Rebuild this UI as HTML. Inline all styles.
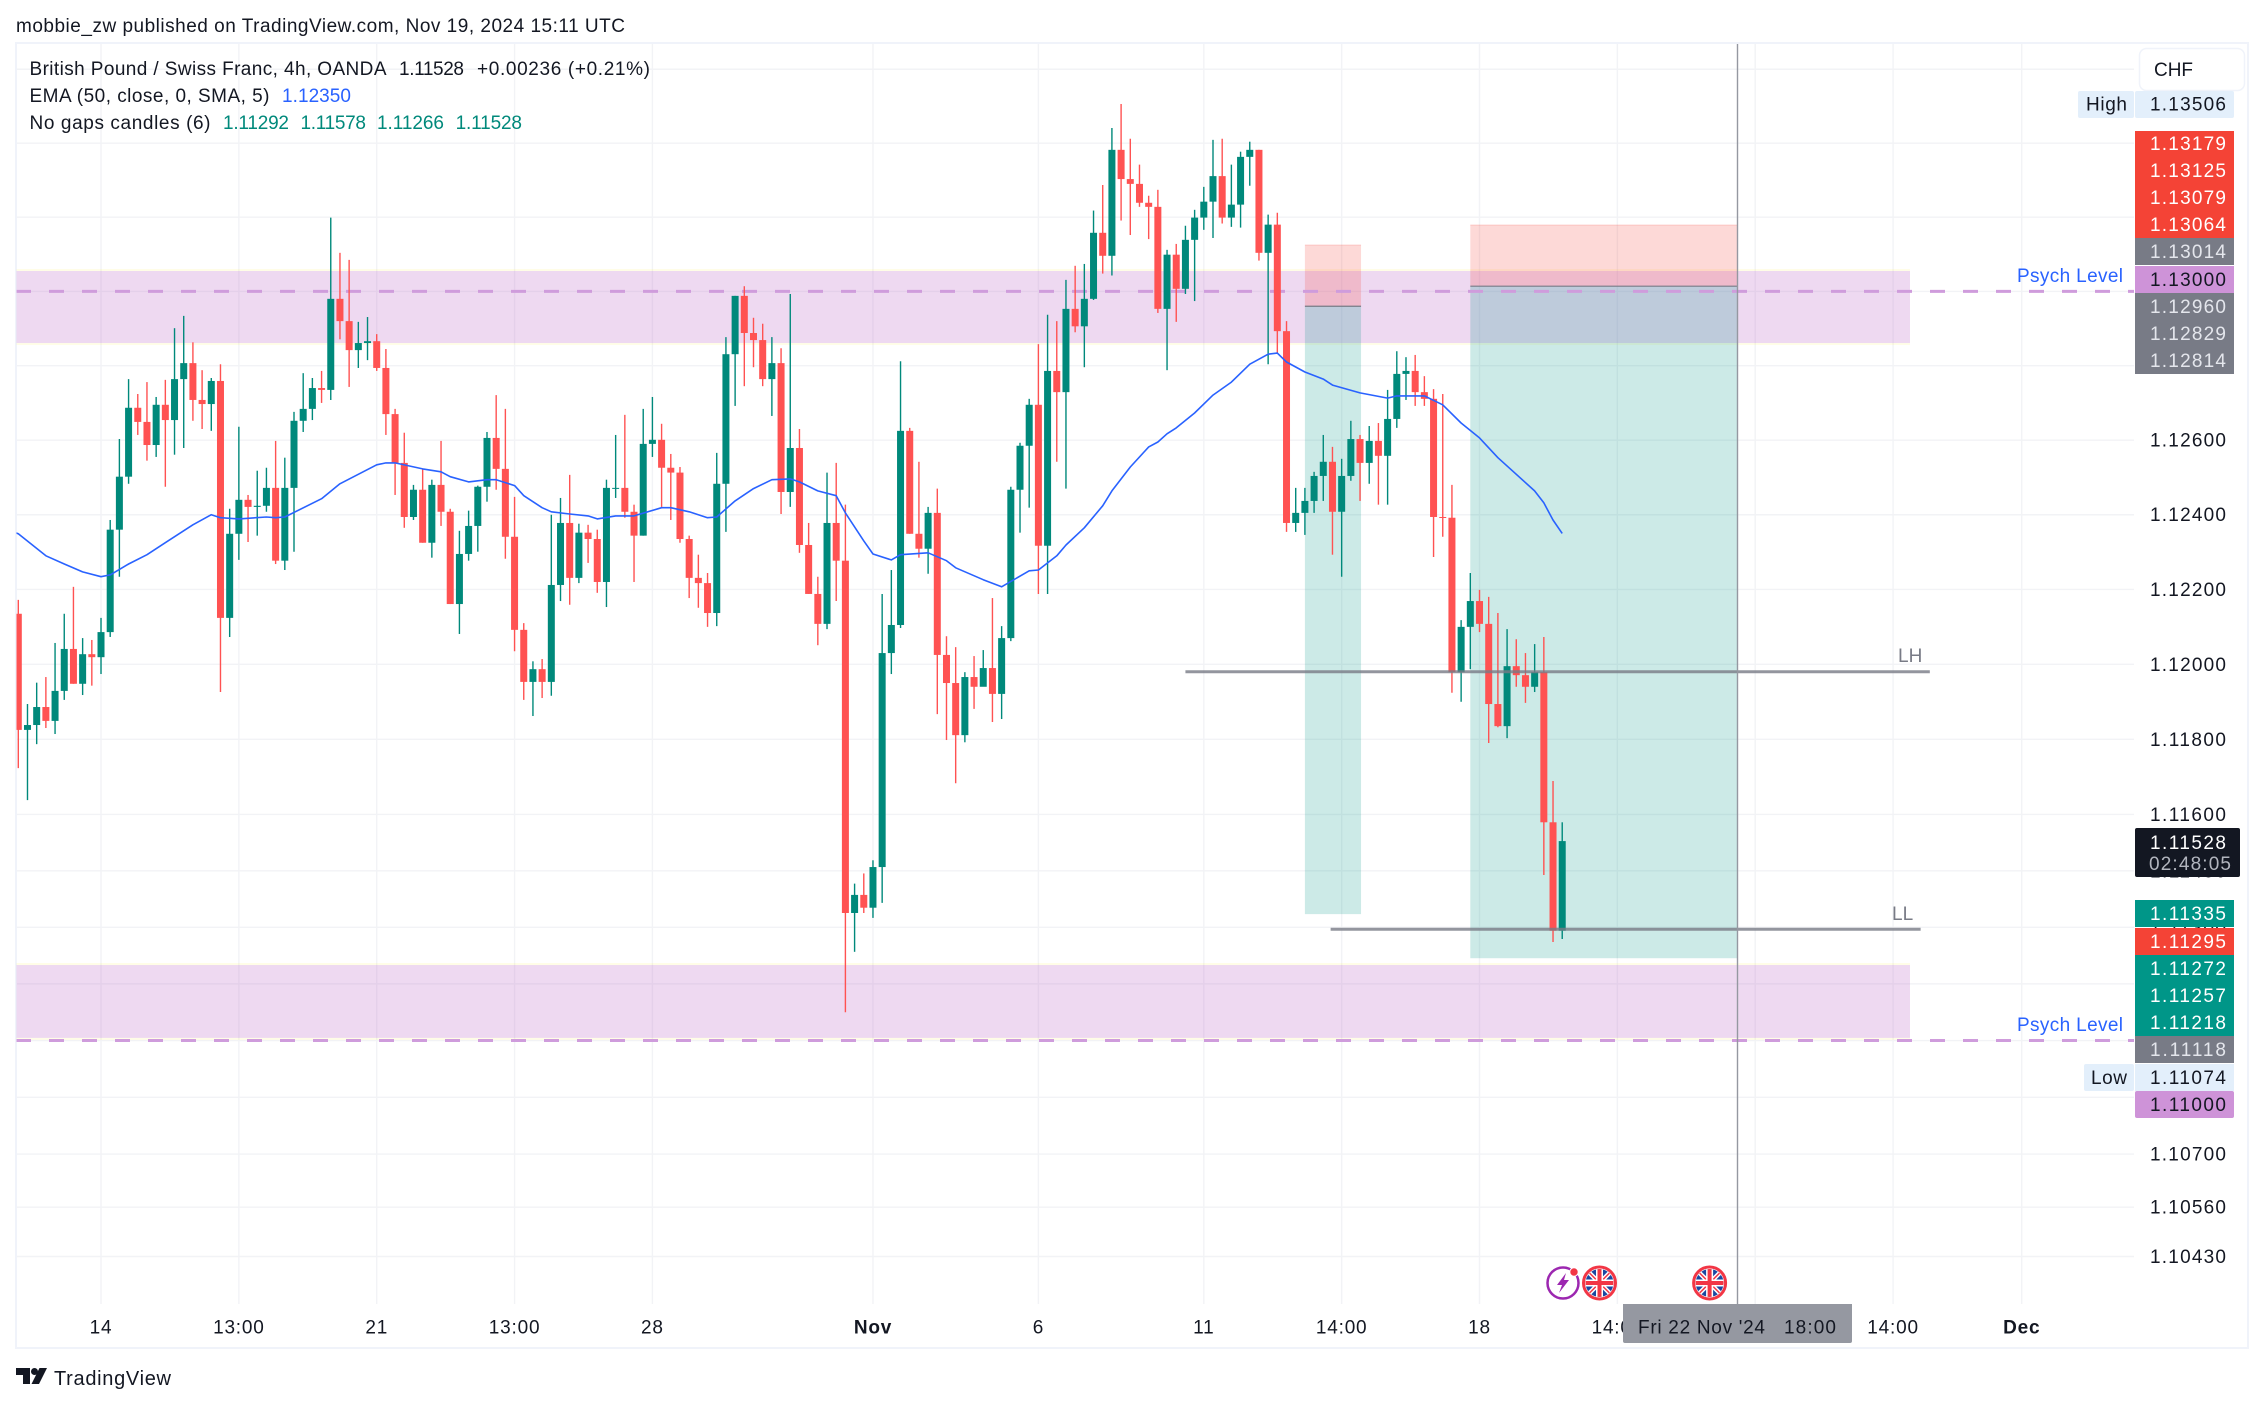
<!DOCTYPE html>
<html lang="en">
<head>
<meta charset="utf-8">
<title>GBP/CHF 4h chart</title>
<style>
html,body{margin:0;padding:0;background:#fff;width:2265px;height:1405px;overflow:hidden}
svg{display:block;font-family:"Liberation Sans",sans-serif;fill:#131722}
.lg{font-size:19px;fill:#131722}
.px{font-size:19px}
.ti{font-size:19px;letter-spacing:.8px;fill:#131722}
.w{fill:#fff}.g{fill:#e4e6ec}.d{fill:#131722}
</style>
</head>
<body>
<svg id="chart" xmlns="http://www.w3.org/2000/svg" width="2265" height="1405" viewBox="0 0 2265 1405">
  <defs>
    <clipPath id="plotClip"><rect x="16.5" y="44" width="2117.5" height="1260"/></clipPath>
    <clipPath id="flagClip"><circle cx="0" cy="0" r="14"/></clipPath>
  </defs>
  <text class="lg" x="16" y="32" textLength="609">mobbie_zw published on TradingView.com, Nov 19, 2024 15:11 UTC</text>
  <rect x="16" y="43" width="2232" height="1305" fill="#fff" stroke="#f0f3fa" stroke-width="2"/>
  <g id="grid"></g>
  <g id="tools" clip-path="url(#plotClip)"></g>
  <g id="candles" clip-path="url(#plotClip)"></g>
  <path id="emaLine" fill="none" stroke="#2962ff" stroke-width="1.6" stroke-linejoin="round" clip-path="url(#plotClip)"/>
  <g id="lines" clip-path="url(#plotClip)"></g>
  <line x1="1737.5" y1="44" x2="1737.5" y2="1304" stroke="#9598a1" stroke-width="1.4"/>

  <text class="lg" x="1898" y="662" style="fill:#787b86">LH</text>
  <text class="lg" x="1892" y="920" style="fill:#787b86">LL</text>

  <g>
    <text class="lg" x="29.5" y="75" textLength="357">British Pound / Swiss Franc, 4h, OANDA</text>
    <text class="lg" x="399" y="75" textLength="65">1.11528</text>
    <text class="lg" x="477" y="75" textLength="173">+0.00236 (+0.21%)</text>
    <text class="lg" x="29.5" y="102" textLength="240">EMA (50, close, 0, SMA, 5)</text>
    <text class="lg" x="282" y="102" textLength="69" style="fill:#2962ff">1.12350</text>
    <text class="lg" x="29.5" y="129" textLength="181">No gaps candles (6)</text>
    <text class="lg" x="223" y="129" textLength="66" style="fill:#00897b">1.11292</text>
    <text class="lg" x="300.5" y="129" textLength="65.5" style="fill:#00897b">1.11578</text>
    <text class="lg" x="377" y="129" textLength="67" style="fill:#00897b">1.11266</text>
    <text class="lg" x="455.6" y="129" textLength="66.4" style="fill:#00897b">1.11528</text>
  </g>

  <g id="priceTicks"></g>
  <g id="timeTicks"></g>

  <g>
    <rect x="2139.5" y="48.5" width="105" height="42" rx="7" fill="#fff" stroke="#f0f3fa" stroke-width="1.5"/>
    <text class="px" x="2154" y="76" textLength="39">CHF</text>
  </g>
  <text class="lg" x="2017" y="282" textLength="106" style="fill:#2962ff">Psych Level</text>
  <text class="lg" x="2017" y="1031" textLength="106" style="fill:#2962ff">Psych Level</text>

  <g>
    <g><rect x="2078" y="91" width="56" height="27" rx="2" fill="#e3effb"/><rect x="2135" y="91" width="99" height="27" rx="2" fill="#e3effb"/><text class="px" x="2086" y="110.5" textLength="41">High</text><text class="px" x="2150" y="110.5" textLength="76">1.13506</text></g>
    <g><rect x="2135" y="131" width="99" height="27" fill="#f44336"/><text class="px w" x="2150" y="150" textLength="76">1.13179</text></g>
    <g><rect x="2135" y="157" width="99" height="27.5" fill="#f44336"/><text class="px w" x="2150" y="177" textLength="76">1.13125</text></g>
    <g><rect x="2135" y="184" width="99" height="27.5" fill="#f44336"/><text class="px w" x="2150" y="204" textLength="76">1.13079</text></g>
    <g><rect x="2135" y="211" width="99" height="27.5" fill="#f44336"/><text class="px w" x="2150" y="231" textLength="76">1.13064</text></g>
    <g><rect x="2135" y="238" width="99" height="27" fill="#787b86"/><text class="px g" x="2150" y="258" textLength="76">1.13014</text></g>
    <g><rect x="2135" y="266" width="99" height="27" fill="#ce93d8"/><text class="px d" x="2150" y="286" textLength="76">1.13000</text></g>
    <g><rect x="2135" y="293" width="99" height="27.5" fill="#787b86"/><text class="px g" x="2150" y="313" textLength="76">1.12960</text></g>
    <g><rect x="2135" y="320" width="99" height="27.5" fill="#787b86"/><text class="px g" x="2150" y="340" textLength="76">1.12829</text></g>
    <g><rect x="2135" y="347" width="99" height="27" fill="#787b86"/><text class="px g" x="2150" y="367" textLength="76">1.12814</text></g>

    <g><rect x="2135" y="828" width="105" height="49" rx="2" fill="#131722"/><text class="px w" x="2150" y="849" textLength="76">1.11528</text><text class="px" x="2149" y="870" textLength="82" style="fill:#b2b5be">02:48:05</text></g>
    <g><rect x="2135" y="900" width="99" height="27" fill="#009688"/><text class="px w" x="2150" y="920" textLength="76">1.11335</text></g>
    <g><rect x="2135" y="928" width="99" height="27" fill="#f44336"/><text class="px w" x="2150" y="948" textLength="76">1.11295</text></g>
    <g><rect x="2135" y="955" width="99" height="27.5" fill="#009688"/><text class="px w" x="2150" y="975" textLength="76">1.11272</text></g>
    <g><rect x="2135" y="982" width="99" height="27.5" fill="#009688"/><text class="px w" x="2150" y="1002" textLength="76">1.11257</text></g>
    <g><rect x="2135" y="1009" width="99" height="27.5" fill="#009688"/><text class="px w" x="2150" y="1029" textLength="76">1.11218</text></g>
    <g><rect x="2135" y="1036" width="99" height="27" fill="#787b86"/><text class="px g" x="2150" y="1056" textLength="76">1.11118</text></g>
    <g><rect x="2084" y="1064" width="50" height="27" rx="2" fill="#e3effb"/><rect x="2135" y="1064" width="99" height="27" fill="#e3effb"/><text class="px" x="2091" y="1084" textLength="36">Low</text><text class="px" x="2150" y="1084" textLength="76">1.11074</text></g>
    <g><rect x="2135" y="1091" width="99" height="27" rx="2" fill="#ce93d8"/><text class="px d" x="2150" y="1111" textLength="76">1.11000</text></g>
  </g>

  <g transform="translate(1563,1283)">
    <circle r="15.5" fill="#fff" stroke="#9c27b0" stroke-width="2.5"/>
    <path d="M3 -10 L-6 2 L-1 2 L-4 10 L6 -3 L1 -3 Z" fill="#9c27b0"/>
    <circle cx="11" cy="-11" r="4.2" fill="#f23645" stroke="#fff" stroke-width="1"/>
  </g>
  <g transform="translate(1599.5,1283)">
    <circle r="16" fill="#fff" stroke="#f23645" stroke-width="3"/>
    <g clip-path="url(#flagClip)">
      <rect x="-15" y="-15" width="30" height="30" fill="#1a47a0"/>
      <path d="M-15 -15 L15 15 M15 -15 L-15 15" stroke="#fff" stroke-width="4.5"/>
      <path d="M-15 -15 L15 15 M15 -15 L-15 15" stroke="#f23645" stroke-width="1.5"/>
      <path d="M0 -15 V15 M-15 0 H15" stroke="#fff" stroke-width="7"/>
      <path d="M0 -15 V15 M-15 0 H15" stroke="#f23645" stroke-width="4"/>
    </g>
  </g>
  <g transform="translate(1709.6,1283)">
    <circle r="16" fill="#fff" stroke="#f23645" stroke-width="3"/>
    <g clip-path="url(#flagClip)">
      <rect x="-15" y="-15" width="30" height="30" fill="#1a47a0"/>
      <path d="M-15 -15 L15 15 M15 -15 L-15 15" stroke="#fff" stroke-width="4.5"/>
      <path d="M-15 -15 L15 15 M15 -15 L-15 15" stroke="#f23645" stroke-width="1.5"/>
      <path d="M0 -15 V15 M-15 0 H15" stroke="#fff" stroke-width="7"/>
      <path d="M0 -15 V15 M-15 0 H15" stroke="#f23645" stroke-width="4"/>
    </g>
  </g>

  <g>
    <path d="M1623 1304 H1852 V1341 a2 2 0 0 1 -2 2 H1625 a2 2 0 0 1 -2 -2 Z" fill="#9598a1"/>
    <text class="lg" x="1638" y="1333.5" textLength="127">Fri 22 Nov '24</text>
    <text class="lg" x="1784" y="1333.5" textLength="52">18:00</text>
  </g>

  <g>
    <path d="M16 1368 H30 V1384 H23 V1375 H16 Z M47 1368 L39 1384 H31.5 L39.5 1368 Z" fill="#131722"/>
    <circle cx="34.5" cy="1371.5" r="3.5" fill="#131722"/>
    <text x="54" y="1385" font-size="20" textLength="117" style="fill:#131722">TradingView</text>
  </g>
</svg>

<script>
const firstOpen = 1.12135;
const closes = [
1.11825,1.11838,1.11886,1.11849,1.11929,1.12041,1.11948,1.12027,1.12019,1.12086,
1.12360,1.12502,1.12687,1.12649,1.12587,1.12695,1.12654,1.12764,1.12807,1.12708,
1.12697,1.12759,1.12124,1.12349,1.12440,1.12421,1.12424,1.12472,1.12277,1.12472,
1.12652,1.12684,1.12740,1.12735,1.12980,1.12920,1.12842,1.12861,1.12866,1.12794,
1.12670,1.12539,1.12394,1.12467,1.12325,1.12480,1.12408,1.12161,1.12295,1.12370,
1.12475,1.12606,1.12523,1.12341,1.12092,1.11953,1.11987,1.11953,1.12212,1.12378,
1.12231,1.12352,1.12335,1.12220,1.12472,1.12472,1.12408,1.12344,1.12590,1.12601,
1.12526,1.12513,1.12335,1.12231,1.12217,1.12137,1.12483,1.12831,1.12988,1.12888,
1.12869,1.12764,1.12807,1.12461,1.12579,1.12319,1.12188,1.12108,1.12378,1.12277,
1.11338,1.11386,1.11352,1.11460,1.12030,1.12105,1.12625,1.12349,1.12309,1.12405,
1.12025,1.11950,1.11811,1.11966,1.11940,1.11990,1.11921,1.12070,1.12467,1.12585,
1.12695,1.12317,1.12786,1.12729,1.12953,1.12906,1.12980,1.13158,1.13096,1.13382,
1.13303,1.13290,1.13239,1.13228,1.12953,1.13099,1.13007,1.13139,1.13199,1.13242,
1.13311,1.13199,1.13234,1.13363,1.13382,1.13104,1.13180,1.12893,1.12378,1.12405,
1.12437,1.12504,1.12542,1.12408,1.12504,1.12603,1.12539,1.12598,1.12558,1.12657,
1.12778,1.12786,1.12729,1.12711,1.12394,1.12392,1.11979,1.12100,1.12169,1.12108,
1.11894,1.11835,1.11995,1.11971,1.11940,1.11979,1.11579,1.11291,1.11529];
const highs = [
1.12172,1.11894,1.11951,1.11966,1.12057,1.12135,1.12207,1.12070,1.12065,1.12124,
1.12386,1.12603,1.12764,1.12724,1.12756,1.12716,1.12762,1.12901,1.12934,1.12863,
1.12788,1.12767,1.12804,1.12416,1.12636,1.12453,1.12518,1.12526,1.12598,1.12553,
1.12676,1.12780,1.12767,1.12786,1.13199,1.13104,1.13085,1.12918,1.12931,1.12885,
1.12845,1.12684,1.12620,1.12480,1.12523,1.12494,1.12598,1.12416,1.12357,1.12411,
1.12478,1.12622,1.12721,1.12684,1.12448,1.12110,1.12008,1.12014,1.12400,1.12445,
1.12507,1.12376,1.12373,1.12360,1.12494,1.12614,1.12668,1.12427,1.12684,1.12716,
1.12644,1.12563,1.12528,1.12344,1.12293,1.12244,1.12566,1.12877,1.12988,1.13014,
1.12929,1.12913,1.12877,1.12847,1.12993,1.12630,1.12378,1.12234,1.12513,1.12539,
1.12427,1.11416,1.11443,1.11478,1.12188,1.12252,1.12812,1.12633,1.12542,1.12421,
1.12470,1.12075,1.12046,1.11979,1.12022,1.12038,1.12177,1.12102,1.12475,1.12593,
1.12711,1.12858,1.12937,1.12920,1.13031,1.13069,1.13074,1.13218,1.13287,1.13441,
1.13506,1.13412,1.13342,1.13258,1.13274,1.13112,1.13128,1.13177,1.13220,1.13282,
1.13409,1.13412,1.13342,1.13377,1.13404,1.13382,1.13207,1.13212,1.12920,1.12472,
1.12472,1.12515,1.12614,1.12582,1.12550,1.12652,1.12614,1.12638,1.12646,1.12735,
1.12839,1.12823,1.12829,1.12772,1.12737,1.12724,1.12480,1.12118,1.12244,1.12199,
1.12180,1.12137,1.12094,1.12067,1.12030,1.12054,1.12073,1.11689,1.11579];
const lows = [
1.11723,1.11638,1.11787,1.11830,1.11814,1.11905,1.11948,1.11918,1.11943,1.11974,
1.12073,1.12234,1.12483,1.12614,1.12545,1.12555,1.12475,1.12561,1.12579,1.12652,
1.12630,1.12625,1.11926,1.12073,1.12279,1.12327,1.12344,1.12408,1.12268,1.12252,
1.12301,1.12622,1.12654,1.12700,1.12708,1.12871,1.12743,1.12794,1.12815,1.12786,
1.12614,1.12453,1.12365,1.12386,1.12325,1.12285,1.12370,1.12161,1.12081,1.12277,
1.12301,1.12435,1.12467,1.12282,1.12035,1.11905,1.11862,1.11910,1.11916,1.12169,
1.12159,1.12217,1.12271,1.12191,1.12153,1.12445,1.12392,1.12220,1.12344,1.12555,
1.12421,1.12386,1.12325,1.12177,1.12151,1.12100,1.12102,1.12354,1.12692,1.12745,
1.12796,1.12745,1.12665,1.12402,1.12421,1.12298,1.12188,1.12051,1.12094,1.12169,
1.11075,1.11235,1.11338,1.11325,1.11365,1.11974,1.12097,1.12349,1.12285,1.12242,
1.11867,1.11798,1.11683,1.11792,1.11881,1.11941,1.11846,1.11854,1.12062,1.12352,
1.12419,1.12188,1.12188,1.12542,1.12470,1.12890,1.12796,1.12977,1.13048,1.13043,
1.13191,1.13152,1.13228,1.13141,1.12942,1.12788,1.12918,1.12993,1.12974,1.13166,
1.13144,1.13183,1.13174,1.13172,1.13285,1.13083,1.12804,1.12834,1.12354,1.12354,
1.12346,1.12405,1.12437,1.12293,1.12234,1.12491,1.12437,1.12483,1.12427,1.12427,
1.12633,1.12708,1.12692,1.12692,1.12287,1.12341,1.11924,1.11900,1.11987,1.12086,
1.11790,1.11832,1.11803,1.11940,1.11897,1.11926,1.11439,1.11261,1.11269];

const emaBars = [-1,0,3,5,7,9,10,12,14,16,19,21,22,24,27,28,29,33,35,39,40,41,44,46,47,49,51,52,54,55,57,58,60,62,63,65,67,70,71,73,75,76,78,80,82,84,85,87,89,90,92,93,95,96,99,101,102,105,107,110,111,113,114,116,118,119,121,123,124,125,126,128,130,132,134,136,137,138,140,142,143,146,149,150,153,155,157,159,161,165,166,167,168];
const emaValues = [1.12358,1.12349,1.12290,1.12268,1.12247,1.12234,1.12239,1.12268,1.12293,1.12325,1.12373,1.12400,1.12392,1.12389,1.12394,1.12392,1.12394,1.12443,1.12483,1.12534,1.12539,1.12539,1.12523,1.12515,1.12502,1.12488,1.12494,1.12494,1.12478,1.12451,1.12419,1.12408,1.12402,1.12397,1.12389,1.12397,1.12397,1.12419,1.12419,1.12408,1.12392,1.12394,1.12437,1.12470,1.12494,1.12496,1.12488,1.12464,1.12451,1.12405,1.12330,1.12295,1.12279,1.12293,1.12298,1.12277,1.12258,1.12226,1.12207,1.12250,1.12252,1.12290,1.12319,1.12365,1.12424,1.12464,1.12528,1.12582,1.12595,1.12617,1.12633,1.12673,1.12721,1.12756,1.12804,1.12831,1.12834,1.12810,1.12783,1.12764,1.12748,1.12727,1.12713,1.12719,1.12719,1.12695,1.12646,1.12606,1.12553,1.12464,1.12432,1.12386,1.12350];

const priceTicks = [1.136,1.134,1.132,1.13,1.128,1.126,1.124,1.122,1.12,1.118,1.116,1.1145,1.113,1.1115,1.11,1.1085,1.107,1.1056,1.1043];
const timeTickBars = [9,24,39,54,69,93,111,129,144,159,174,189,204,218];
const timeTickLabels = ['14','13:00','21','13:00','28','Nov','6','11','14:00','18','14:00','','14:00','Dec'];

const zoneTopPrices = [1.13055, 1.11200];
const zoneBottomPrices = [1.12861, 1.11007];
const positionBars = [[140, 146], [158, 187]];
const positionStops = [1.13125, 1.13179];
const positionEntries = [1.12960, 1.13014];
const positionTargets = [1.11335, 1.11218];
const psychLevels = [1.13, 1.11];
const levelPrices = [1.11980, 1.11295];
const levelBars = [[127, 208], [142.8, 207]];

const yOf = p => 664.3 + 41950 * Math.log(1.12 / p);
const xOf = i => 18.3 + 9.19 * i;
const NS = 'http://www.w3.org/2000/svg';
const mk = (tag, attrs, parent) => {
  const el = document.createElementNS(NS, tag);
  for (const k in attrs) el.setAttribute(k, attrs[k]);
  parent.appendChild(el);
  return el;
};

const gridG = document.getElementById('grid');
priceTicks.forEach(p => {
  const ln = mk('line', {x1: 17, x2: 2134, y1: yOf(p), y2: yOf(p), stroke: '#f2f3f6', 'stroke-width': 1.4}, gridG);
  
  
});
timeTickBars.forEach(b => {
  const ln = mk('line', {x1: xOf(b), x2: xOf(b), y1: 44, y2: 1304, stroke: '#f2f3f6', 'stroke-width': 1.4}, gridG);
  
  
});

const toolsG = document.getElementById('tools');
zoneTopPrices.forEach((tp, i) => {
  const top = yOf(tp), h = yOf(zoneBottomPrices[i]) - top;
  const zone = mk('rect', {x: 16.5, y: top, width: 1893.5, height: h, fill: 'rgba(186,104,200,.25)'}, toolsG);
  
  
  const e1 = mk('rect', {x: 16.5, y: top - 2, width: 1893.5, height: 2, fill: 'rgba(255,235,59,.12)'}, toolsG);
  
  
  const e2 = mk('rect', {x: 16.5, y: top + h, width: 1893.5, height: 2, fill: 'rgba(255,235,59,.12)'}, toolsG);
  
  
});

positionBars.forEach((b, i) => {
  const x0 = xOf(b[0]), w = xOf(b[1]) - x0 + (i === 0 ? 1 : 0.7);
  const ys = yOf(positionStops[i]), ye = yOf(positionEntries[i]), yt = yOf(positionTargets[i]);
  const r = mk('rect', {x: x0, y: ys, width: w, height: ye - ys, fill: 'rgba(244,67,54,.2)'}, toolsG);
  
  
  const g = mk('rect', {x: x0, y: ye, width: w, height: yt - ye, fill: 'rgba(0,150,136,.2)'}, toolsG);
  
  
  const l = mk('line', {x1: x0, x2: x0 + w, y1: ye, y2: ye, stroke: '#787b86', 'stroke-width': 1.2}, toolsG);
  
  
  const t = mk('line', {x1: x0, x2: x0 + w, y1: ys, y2: ys, stroke: 'rgba(244,67,54,.2)', 'stroke-width': 1}, toolsG);
  
  
});

psychLevels.forEach(p => {
  const ln = mk('line', {x1: 16, x2: 2134, y1: yOf(p), y2: yOf(p), stroke: '#cf9cdc', 'stroke-width': 3, 'stroke-dasharray': '15 18'}, toolsG);
  
  
});

const candlesG = document.getElementById('candles');
closes.forEach((c, i) => {
  const o = i === 0 ? firstOpen : closes[i - 1];
  const up = c >= o;
  const col = up ? '#00897b' : '#ff5252';
  const x = xOf(i);
  const wick = mk('line', {x1: x, x2: x, y1: yOf(highs[i]), y2: yOf(lows[i]), stroke: col, 'stroke-width': 1.4}, candlesG);
  
  
  const top = yOf(Math.max(o, c)), bot = yOf(Math.min(o, c));
  const body = mk('rect', {x: x - 3.5, y: top, width: 7, height: Math.max(1, bot - top), fill: col}, candlesG);
  
  
});

document.getElementById('emaLine').setAttribute('d',
  emaValues.map((v, i) => (i ? 'L' : 'M') + xOf(emaBars[i]).toFixed(1) + ' ' + yOf(v).toFixed(1)).join(' '));

const linesG = document.getElementById('lines');
levelPrices.forEach((p, i) => {
  const ln = mk('line', {x1: xOf(levelBars[i][0]), x2: xOf(levelBars[i][1]), y1: yOf(p), y2: yOf(p), stroke: '#787b86', 'stroke-width': 3, 'stroke-opacity': .8}, linesG);
  
  
});

const ptG = document.getElementById('priceTicks');
priceTicks.forEach(p => {
  const t = mk('text', {class: 'px', x: 2150, y: yOf(p) + 6.5, textLength: 76}, ptG);
  
  
  t.textContent = p.toFixed(5);
});

const ttG = document.getElementById('timeTicks');
timeTickLabels.forEach((label, i) => {
  if (!label) return;
  const t = mk('text', {class: 'ti', x: xOf(timeTickBars[i]), y: 1333.5, 'text-anchor': 'middle'}, ttG);
  
  
  if (label === 'Nov' || label === 'Dec') t.setAttribute('font-weight', '700');
  t.textContent = label;
});
</script>
</body>
</html>
